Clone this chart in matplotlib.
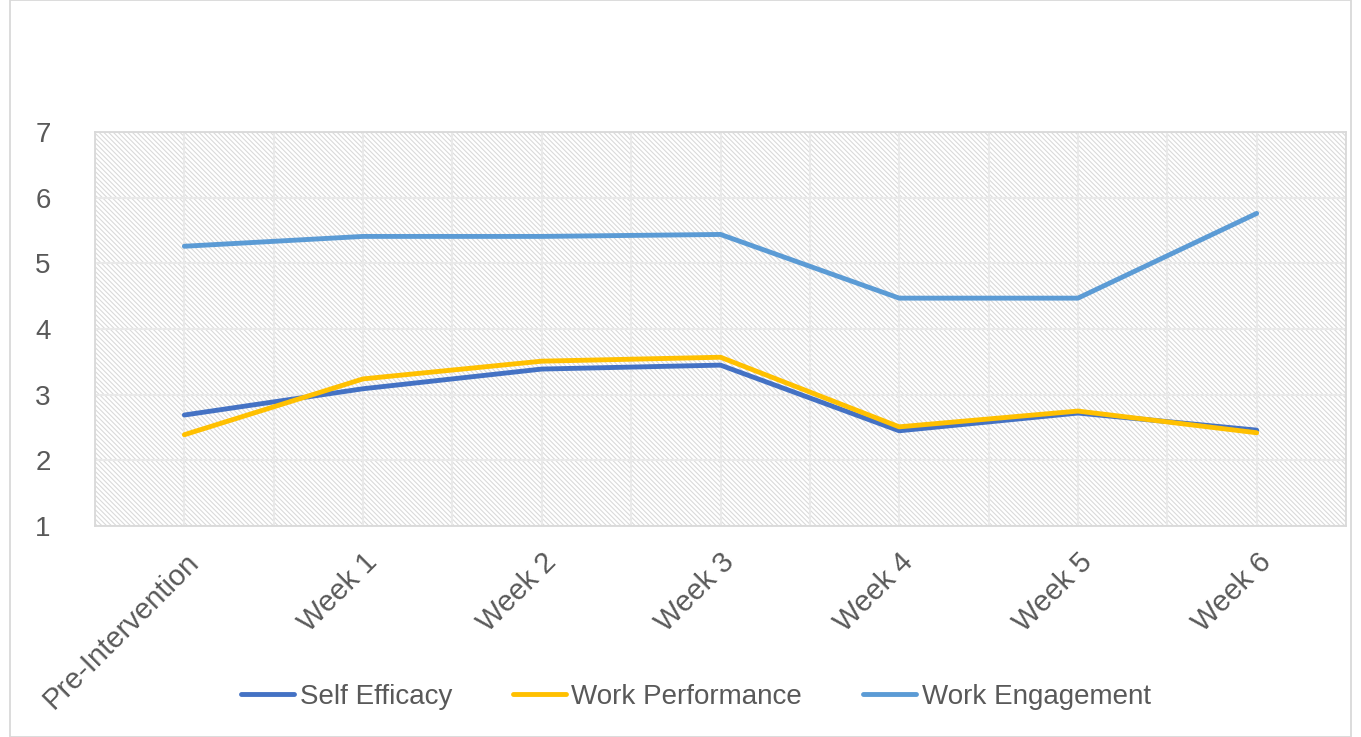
import matplotlib.pyplot as plt
import matplotlib.patches as patches
import numpy as np

categories = ['Pre-Intervention', 'Week 1', 'Week 2', 'Week 3', 'Week 4', 'Week 5', 'Week 6']
self_efficacy = [2.69, 3.09, 3.39, 3.45, 2.45, 2.72, 2.46]
work_performance = [2.39, 3.24, 3.51, 3.57, 2.51, 2.75, 2.42]
work_engagement = [5.26, 5.41, 5.41, 5.44, 4.47, 4.47, 5.76]

plt.rcParams['font.family'] = ['Liberation Sans', 'DejaVu Sans']
plt.rcParams['hatch.linewidth'] = 0.8
txt = '#595959'
grid = '#e9e9e9'

fig = plt.figure(figsize=(13.61, 7.37), dpi=100)
# plot area in pixels: x 95..1346, y 132..526
ax = fig.add_axes([95/1361, 1 - 526/737, 1251/1361, 394/737])

x = np.arange(len(categories))
ax.set_xlim(-0.5, len(categories) - 0.5)
ax.set_ylim(1, 7)

# hatched background
bg = patches.Rectangle((-0.5, 1), len(categories), 6, facecolor='white',
                       edgecolor='#dadada', lw=0, hatch='\\' * 7, zorder=0)
ax.add_patch(bg)

for xv in np.arange(-0.5, len(categories), 0.5):
    ax.axvline(xv, color=grid, lw=1.5, zorder=1)
for yv in range(1, 8):
    ax.axhline(yv, color=grid, lw=1.5, zorder=1)

ax.plot(x, self_efficacy, color='#4472C4', lw=3.5, label='Self Efficacy', zorder=3,
        solid_capstyle='round')
ax.plot(x, work_performance, color='#FFC000', lw=3.5, label='Work Performance', zorder=3,
        solid_capstyle='round')
ax.plot(x, work_engagement, color='#5B9BD5', lw=3.5, label='Work Engagement', zorder=3,
        solid_capstyle='round')

for s in ax.spines.values():
    s.set_color('#d9d9d9')
    s.set_linewidth(1.3)

ax.set_yticks(range(1, 8))
ax.set_xticks(x)
ax.set_xticklabels(categories, rotation=45, ha='right', rotation_mode='anchor')
ax.tick_params(axis='y', length=0, labelsize=20, colors=txt, pad=32)
ax.tick_params(axis='x', length=0, labelsize=21, colors=txt, pad=16)

leg = fig.legend(loc='center', bbox_to_anchor=(696/1361, 1 - 697/737), ncol=3,
                 frameon=False, fontsize=20, handlelength=1.9, handletextpad=0.2,
                 columnspacing=2.2)
for t in leg.get_texts():
    t.set_color(txt)

# chart border
fig.patches.append(patches.Rectangle((10/1361, 0), 1 - 20/1361, 1, transform=fig.transFigure,
                                     fill=False, edgecolor='#d9d9d9', lw=1.3))

fig.savefig('out.png', dpi=100)
